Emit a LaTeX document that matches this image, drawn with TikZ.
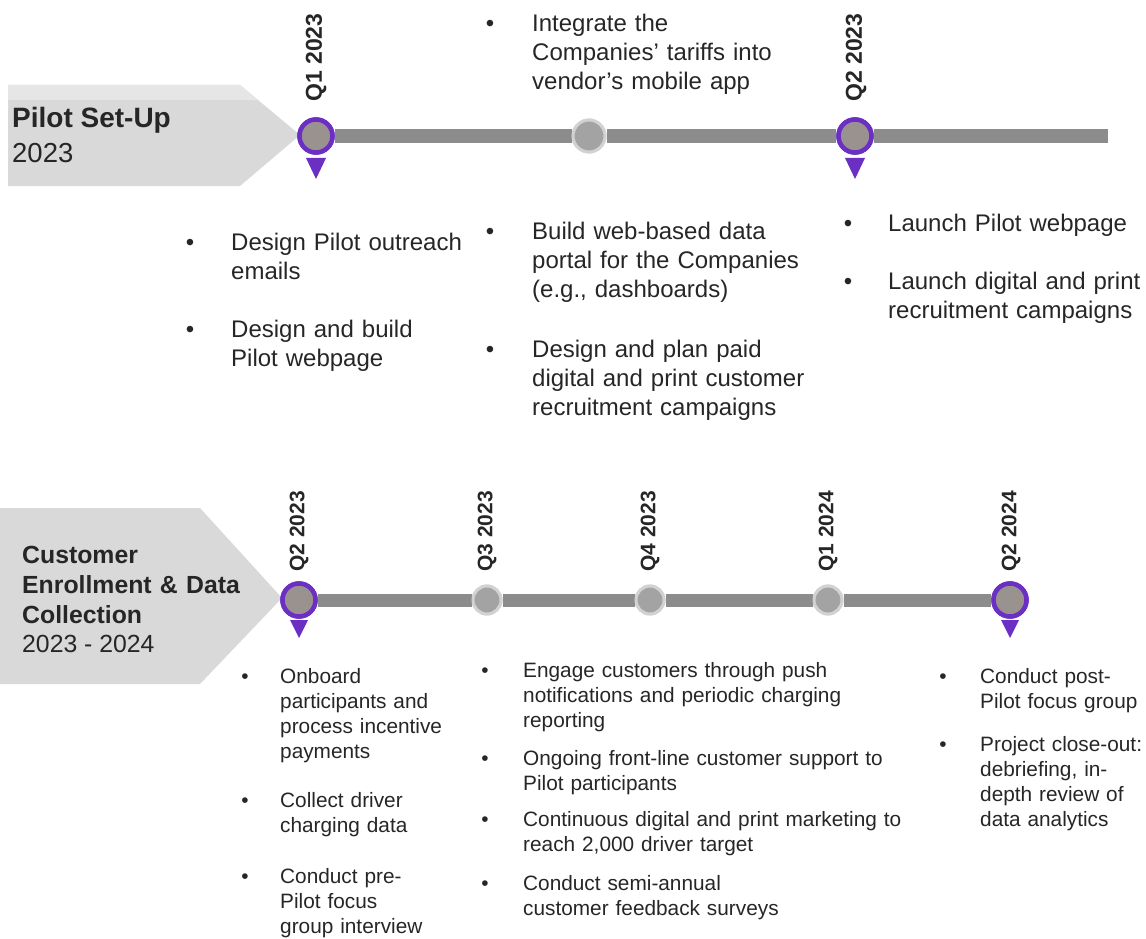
\documentclass[tikz,border=0pt]{standalone}
\usepackage{fontspec}
\setmainfont{Liberation Sans}
\definecolor{ink}{HTML}{262626}
\definecolor{banner}{HTML}{D9D9D9}
\definecolor{bannertop}{HTML}{E6E6E6}
\definecolor{rail}{HTML}{8C8C8C}
\definecolor{milestone}{HTML}{6B2FC4}
\definecolor{milefill}{HTML}{9A928E}
\definecolor{dotfill}{HTML}{A3A3A3}
\definecolor{dothalo}{HTML}{D2D2D2}
\tikzset{
  bigtxt/.style={font=\fontsize{24}{29}\selectfont, text=ink, inner sep=0pt,
    anchor=base west, text width=380pt, align=left},
  smalltxt/.style={font=\fontsize{20.8}{25.3}\selectfont, text=ink, inner sep=0pt,
    anchor=base west, text width=440pt, align=left},
  bigdot/.style={font=\fontsize{24}{29}\selectfont, text=ink, inner sep=0pt, anchor=base},
  smalldot/.style={font=\fontsize{20.8}{25}\selectfont, text=ink, inner sep=0pt, anchor=base},
  quarter/.style={font=\bfseries\fontsize{23}{23}\selectfont, text=ink, inner sep=0pt,
    rotate=90, anchor=west},
  quartersm/.style={font=\bfseries\fontsize{21}{21}\selectfont, text=ink, inner sep=0pt,
    rotate=90, anchor=west},
  keydate/.style={circle, minimum size=33pt, inner sep=0pt, fill=milefill,
    draw=milestone, line width=4.5pt},
  middate/.style={circle, minimum size=32pt, inner sep=0pt, fill=dotfill,
    draw=dothalo, line width=3pt},
  middatesm/.style={circle, minimum size=28pt, inner sep=0pt, fill=dotfill,
    draw=dothalo, line width=3pt},
  railline/.style={draw=rail, line width=14pt},
  railsm/.style={draw=rail, line width=13pt},
  pointer/.style={fill=milestone},
  phasehead/.style={font=\bfseries\fontsize{28}{30}\selectfont, text=ink, inner sep=0pt, anchor=base west},
  phaseyear/.style={font=\fontsize{27.5}{30}\selectfont, text=ink, inner sep=0pt, anchor=base west},
  phasehead2/.style={font=\bfseries\fontsize{24.8}{30}\selectfont, text=ink, inner sep=0pt,
    anchor=base west, text width=260pt, align=left},
  phaseyear2/.style={font=\fontsize{24.8}{30}\selectfont, text=ink, inner sep=0pt, anchor=base west},
}
\begin{document}
\begin{tikzpicture}[x=1pt, y=-1pt]
\useasboundingbox (0,0) rectangle (1146,939);

% ---------- Phase 1: Pilot Set-Up ----------
\fill[banner] (8,85) -- (240,85) -- (300,135) -- (240,186) -- (8,186) -- cycle;
\fill[bannertop] (8,85) -- (240,85) -- (258,100) -- (8,100) -- cycle;
\node[phasehead] (p1title) at (12,128) {Pilot Set-Up};
\node[phaseyear] (p1year) at (12,162) {2023};

\coordinate (p1end) at (1108,136);
\node[keydate] (t1) at (316,136) {};
\node[middate] (t2) at (589,136) {};
\node[keydate] (t3) at (855,136) {};
\path[railline] (t1) -- (t2);
\path[railline] (t2) -- (t3);
\path[railline] (t3) -- (p1end);
% milestones sit on top of the rail
\node[keydate] at (t1) {};
\node[middate] at (t2) {};
\node[keydate] at (t3) {};
\fill[pointer] (t1.center) ++(-10,22) -- ++(20,0) -- ++(-10,21) -- cycle;
\fill[pointer] (t3.center) ++(-10,22) -- ++(20,0) -- ++(-10,21) -- cycle;

\node[quarter] (q1) at (316,102) {Q1 2023};
\node[quarter] (q2) at (856,102) {Q2 2023};

% upper item
\node[bigdot] (b0) at (490,32) {•};
\node[bigtxt] (i0) at (532,32) {Integrate the\\Companies’ tariffs into\\vendor’s mobile app};

% lower items
\node[bigdot] (b1) at (190,250) {•};
\node[bigtxt] (i1) at (231,250) {Design Pilot outreach\\emails};
\node[bigdot] (b2) at (190,337) {•};
\node[bigtxt] (i2) at (231,337) {Design and build\\Pilot webpage};

\node[bigdot] (b3) at (490,239) {•};
\node[bigtxt] (i3) at (532,239) {Build web-based data\\portal for the Companies\\(e.g., dashboards)};
\node[bigdot] (b4) at (490,357) {•};
\node[bigtxt] (i4) at (532,357) {Design and plan paid\\digital and print customer\\recruitment campaigns};

\node[bigdot] (b5) at (848,231) {•};
\node[bigtxt] (i5) at (888,231) {Launch Pilot webpage};
\node[bigdot] (b6) at (848,289) {•};
\node[bigtxt] (i6) at (888,289) {Launch digital and print\\recruitment campaigns};

% ---------- Phase 2: Customer Enrollment & Data Collection ----------
\fill[banner] (0,508) -- (200,508) -- (282,598) -- (200,684) -- (0,684) -- cycle;
\node[phasehead2] (p2title) at (22,563) {Customer\\Enrollment \& Data\\Collection};
\node[phaseyear2] (p2year) at (22,652) {2023 - 2024};

\node[keydate] (s1) at (299,600) {};
\node[middatesm] (s2) at (487,600) {};
\node[middatesm] (s3) at (650,600) {};
\node[middatesm] (s4) at (828,600) {};
\node[keydate] (s5) at (1010,600) {};
\path[railsm] (s1) -- (s2);
\path[railsm] (s2) -- (s3);
\path[railsm] (s3) -- (s4);
\path[railsm] (s4) -- (s5);
\node[keydate] at (s1) {};
\node[middatesm] at (s2) {};
\node[middatesm] at (s3) {};
\node[middatesm] at (s4) {};
\node[keydate] at (s5) {};
\fill[pointer] (s1.center) ++(-9,20) -- ++(18,0) -- ++(-9,18) -- cycle;
\fill[pointer] (s5.center) ++(-9,20) -- ++(18,0) -- ++(-9,18) -- cycle;

\node[quartersm] (r1) at (299,572) {Q2 2023};
\node[quartersm] (r2) at (487,572) {Q3 2023};
\node[quartersm] (r3) at (650,572) {Q4 2023};
\node[quartersm] (r4) at (828,572) {Q1 2024};
\node[quartersm] (r5) at (1011,572) {Q2 2024};

\node[smalldot] (c1) at (245,683) {•};
\node[smalltxt] (d1) at (280,683) {Onboard\\participants and\\process incentive\\payments};
\node[smalldot] (c2) at (245,807) {•};
\node[smalltxt] (d2) at (280,807) {Collect driver\\charging data};
\node[smalldot] (c3) at (245,883) {•};
\node[smalltxt] (d3) at (280,883) {Conduct pre-\\Pilot focus\\group interview};

\node[smalldot] (c4) at (485,677) {•};
\node[smalltxt] (d4) at (523,677) {Engage customers through push\\notifications and periodic charging\\reporting};
\node[smalldot] (c5) at (485,765) {•};
\node[smalltxt] (d5) at (523,765) {Ongoing front-line customer support to\\Pilot participants};
\node[smalldot] (c6) at (485,826) {•};
\node[smalltxt] (d6) at (523,826) {Continuous digital and print marketing to\\reach 2,000 driver target};
\node[smalldot] (c7) at (485,890) {•};
\node[smalltxt] (d7) at (523,890) {Conduct semi-annual\\customer feedback surveys};

\node[smalldot] (c8) at (943,683) {•};
\node[smalltxt] (d8) at (980,683) {Conduct post-\\Pilot focus group};
\node[smalldot] (c9) at (943,751) {•};
\node[smalltxt] (d9) at (980,751) {Project close-out:\\debriefing, in-\\depth review of\\data analytics};
\end{tikzpicture}
\end{document}
